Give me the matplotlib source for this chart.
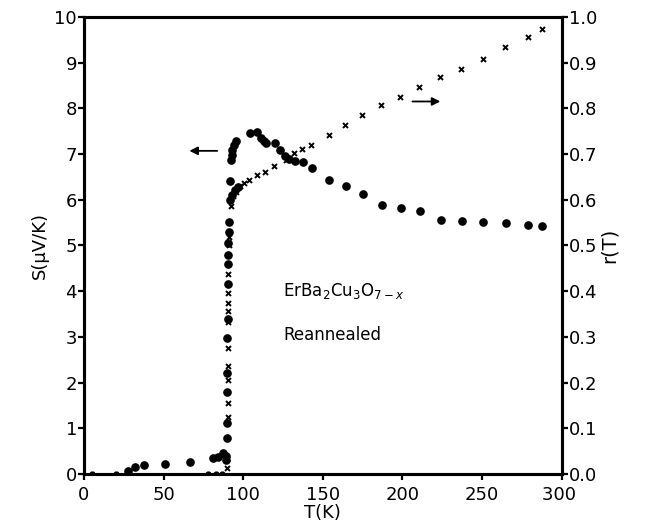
import matplotlib
matplotlib.use("Agg")
import matplotlib.pyplot as plt

# thermopower S (left axis), filled circles
s_temp = [27.7, 31.9, 38.0, 50.8, 66.4, 81.3, 84.1, 87.4,
          89.4, 89.5, 89.6, 89.7, 89.8, 90.0, 90.1, 90.3, 90.4, 90.5, 90.6, 90.7, 90.8, 91.0,
          91.7, 93.1, 94.8, 96.5, 91.7,
          92.3, 92.7, 93.3, 94.2, 95.4,
          104.2, 108.4, 111.1, 113.0, 114.2, 119.9, 123.2, 126.5, 128.5, 132.3, 137.6,
          142.9, 154.0, 164.4, 175.1, 187.1, 198.8, 210.9, 224.3, 237.3, 250.5, 264.7,
          278.5, 287.3]
s_vals = [0.07, 0.15, 0.19, 0.22, 0.26, 0.34, 0.38, 0.45,
          0.31, 0.40, 0.78, 1.11, 1.80, 2.21, 2.98, 3.39, 4.16, 4.60, 4.79, 5.05, 5.30, 5.52,
          6.00, 6.10, 6.21, 6.27, 6.40,
          6.87, 6.98, 7.09, 7.20, 7.29,
          7.46, 7.49, 7.35, 7.29, 7.25, 7.25, 7.09, 6.96, 6.90, 6.85, 6.83,
          6.70, 6.43, 6.30, 6.13, 5.89, 5.83, 5.76, 5.56, 5.54, 5.51, 5.49,
          5.45, 5.43]
# points lying on the zero line (partly hidden by the axis)
zero_temp = [5, 20, 78, 83, 87]

# normalised resistance r(T) (right axis), crosses
r_temp = [90.0, 90.0, 90.2, 90.3, 90.4, 90.4, 90.5, 90.5, 90.6, 90.6, 90.6, 90.7, 90.8, 91.2,
          92.3, 93.7, 95.2, 97.9, 100.6, 103.8, 108.8, 113.6, 119.4, 126.6, 131.8, 137.1,
          142.8, 153.9, 164.0, 174.8, 186.8, 198.4, 210.5, 223.7, 236.5, 250.3, 264.3,
          278.9, 287.3]
r_vals = [0.012, 0.033, 0.125, 0.156, 0.206, 0.237, 0.276, 0.332, 0.357, 0.375, 0.397, 0.437, 0.501, 0.519,
          0.586, 0.608, 0.618, 0.629, 0.636, 0.643, 0.654, 0.661, 0.674, 0.687, 0.702, 0.710,
          0.719, 0.741, 0.763, 0.785, 0.807, 0.824, 0.846, 0.868, 0.886, 0.908, 0.934,
          0.956, 0.974]

fs = 13
fig = plt.figure(figsize=(6.45, 5.29), dpi=100)
ax = fig.add_axes([0.130, 0.104, 0.741, 0.864])
ax2 = ax.twinx()

ax.plot(zero_temp, [0] * len(zero_temp), "o", color="black", ms=3.5, zorder=1)
ax.plot(s_temp, s_vals, "o", color="black", ms=5.2, clip_on=False, zorder=3)
ax2.plot(r_temp, r_vals, "x", color="black", ms=3.6, mew=1.4, clip_on=False, zorder=3)

ax.set_xlim(0, 300)
ax.set_ylim(0, 10)
ax2.set_ylim(0, 1.0)
ax.set_xticks([0, 50, 100, 150, 200, 250, 300])
ax.set_yticks(range(0, 11))
ax2.set_yticks([i / 10 for i in range(11)])
ax2.set_yticklabels(["%.1f" % (i / 10) for i in range(11)])

for a in (ax, ax2):
    for sp in a.spines.values():
        sp.set_linewidth(2.2)
    a.tick_params(direction="out", length=4, width=1.6, labelsize=fs, pad=1)
ax.tick_params(axis="x", pad=5)
ax.set_xticklabels(["0", "50", "100", "150", "200", "250", "300 "])

ax.set_xlabel("T(K)", fontsize=fs, labelpad=0)
ax.set_ylabel("S(μV/K)", fontsize=fs, labelpad=4)
ax2.set_ylabel("r(T)", fontsize=fs + 1, labelpad=2)

# arrows pointing to the axis each series belongs to
ax.annotate("", xy=(64.5, 7.07), xytext=(85.5, 7.07),
            arrowprops=dict(arrowstyle="-|>", color="black", lw=1.3, mutation_scale=12))
ax2.annotate("", xy=(225.5, 0.815), xytext=(204.5, 0.815),
             arrowprops=dict(arrowstyle="-|>", color="black", lw=1.3, mutation_scale=12))

ax.text(125, 4.0, "ErBa$_2$Cu$_3$O$_{7-x}$", fontsize=fs - 1, va="center")
ax.text(125, 3.05, "Reannealed", fontsize=fs - 1, va="center")

fig.savefig("out.png", dpi=100)
